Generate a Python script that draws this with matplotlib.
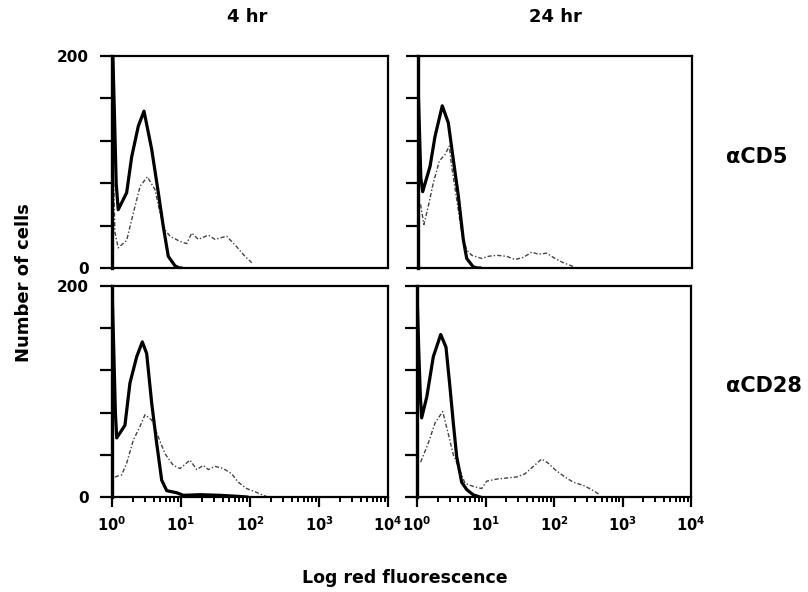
import matplotlib
matplotlib.use('Agg')
import matplotlib.pyplot as plt
from matplotlib.ticker import LogLocator, NullFormatter, FixedLocator

plt.rcParams['font.family'] = ['DejaVu Sans']
plt.rcParams['font.weight'] = 'bold'
plt.rcParams['mathtext.fontset'] = 'dejavusans'

# fluorescence (x) vs number of cells (y)
# 4 hr, aCD5
tl_solid_x = [1.0, 1.08, 1.15, 1.23, 1.63, 1.93, 2.41, 2.91, 3.76, 4.69, 5.54, 6.54, 8.2, 9.5, 10]
tl_solid_y = [230, 150, 80, 55, 71, 105, 134, 148, 112, 71, 39, 11, 2, 0, 0]
tl_dash_x = [1.06, 1.1, 1.23, 1.63, 2.04, 2.55, 3.25, 4.2, 4.96, 5.86, 6.93, 9.7, 12.1, 14.3,
             17.8, 24.9, 31.1, 45.9, 64.2, 84.7, 106]
tl_dash_y = [80, 34, 19, 26, 52, 77, 86, 74, 52, 36, 30, 25, 23, 33, 27, 31, 27, 30, 20, 11, 5]

# 24 hr, aCD5
tr_solid_x = [1.0, 1.05, 1.1, 1.17, 1.5, 1.77, 2.26, 2.77, 3.28, 3.88, 4.58, 5.14, 6.41, 7.5, 8]
tr_solid_y = [175, 130, 85, 72, 96, 124, 153, 137, 102, 68, 27, 9, 1, 0, 0]
tr_dash_x = [1.09, 1.22, 1.41, 1.67, 2.05, 2.48, 2.86, 3.1, 3.67, 4.35, 5.14, 6.08, 8.5, 10.6,
             14.1, 19.7, 26.1, 34.5, 45.7, 57.1, 75.7, 100, 132, 175, 200]
tr_dash_y = [60, 41, 58, 80, 101, 107, 115, 96, 65, 33, 17, 12, 9, 11, 12, 11, 8, 10, 15, 13,
             14, 9, 5, 2, 0]

# 4 hr, aCD28
bl_solid_x = [1.0, 1.06, 1.12, 1.17, 1.54, 1.82, 2.28, 2.75, 3.18, 3.76, 4.44, 5.25, 6.21, 8.7,
              10.8, 18.8, 36.7, 71.6, 90]
bl_solid_y = [200, 140, 80, 56, 68, 108, 133, 147, 136, 89, 51, 16, 6, 4, 1.6, 2.2, 1.6, 0.5, 0]
bl_dash_x = [1.1, 1.38, 1.63, 2.04, 2.55, 3.01, 3.76, 4.69, 5.86, 7.73, 9.7, 13.5, 16.9, 21.0,
             24.9, 31.1, 41.0, 54.3, 67.6, 89.6, 118, 156, 180]
bl_dash_y = [19, 21, 32, 54, 67, 78, 73, 57, 41, 30, 27, 35, 26, 30, 26, 29, 27, 22, 14, 8, 5,
             1.6, 0]

# 24 hr, aCD28
br_solid_x = [1.0, 1.06, 1.12, 1.17, 1.39, 1.73, 2.22, 2.65, 3.03, 3.39, 3.8, 4.49, 5.32, 6.64,
              8.3]
br_solid_y = [195, 140, 95, 75, 95, 133, 154, 142, 104, 70, 38, 14, 7, 2, 0]
br_dash_x = [1.13, 1.46, 1.83, 2.37, 2.86, 3.39, 4.01, 5.02, 6.64, 8.8, 10.4, 14.6, 20.4, 28.5,
             37.7, 49.9, 66.1, 82.5, 103, 137, 191, 268, 355, 470]
br_dash_y = [33, 51, 70, 81, 60, 40, 29, 13, 10, 8, 15, 17, 18, 19, 22, 29, 36, 32, 26, 20, 14,
             11, 7, 2]

col_titles = ['4 hr', '24 hr']
row_labels = ['\u03b1CD5', '\u03b1CD28']
x_ticks = [1, 10, 100, 1000, 10000]
x_labels = ['$\\mathbf{10^{0}}$', '$\\mathbf{10^{1}}$', '$\\mathbf{10^{2}}$',
            '$\\mathbf{10^{3}}$', '$\\mathbf{10^{4}}$']
y_ticks = [0, 40, 80, 120, 160, 200]
y_labels = ['0', '', '', '', '', '200']

fig = plt.figure(figsize=(8.08, 5.92), dpi=100)

rects = {
    'tl': [112 / 808, 1 - 268 / 592, 276 / 808, 212 / 592],
    'tr': [418 / 808, 1 - 268 / 592, 274 / 808, 212 / 592],
    'bl': [112 / 808, 1 - 497 / 592, 276 / 808, 211 / 592],
    'br': [417 / 808, 1 - 497 / 592, 274 / 808, 211 / 592],
}
curves = {
    'tl': (tl_solid_x, tl_solid_y, tl_dash_x, tl_dash_y),
    'tr': (tr_solid_x, tr_solid_y, tr_dash_x, tr_dash_y),
    'bl': (bl_solid_x, bl_solid_y, bl_dash_x, bl_dash_y),
    'br': (br_solid_x, br_solid_y, br_dash_x, br_dash_y),
}

for key in ['tl', 'tr', 'bl', 'br']:
    ax = fig.add_axes(rects[key])
    sx, sy, dx, dy = curves[key]
    ax.plot(dx, dy, color='#444444', lw=1.0, ls=(0, (3, 1.5, 1, 1.5)))
    ax.plot(sx, sy, color='black', lw=2.3, solid_joinstyle='round')
    ax.set_xscale('log')
    ax.set_xlim(1, 10000)
    ax.set_ylim(0, 200)
    for s in ['top', 'right', 'bottom']:
        ax.spines[s].set_linewidth(1.6)
    ax.spines['left'].set_linewidth(2.4)
    ax.set_yticks(y_ticks)
    ax.tick_params(axis='y', direction='out', length=8.5, width=1.6, pad=8, labelsize=11)
    if key in ('tl', 'bl'):
        ax.set_yticklabels(y_labels, fontweight='bold')
    else:
        ax.set_yticklabels([])
    if key in ('bl', 'br'):
        ax.xaxis.set_major_locator(FixedLocator(x_ticks))
        ax.set_xticklabels(x_labels)
        ax.xaxis.set_minor_locator(LogLocator(base=10, subs=range(2, 10), numticks=20))
        ax.xaxis.set_minor_formatter(NullFormatter())
        ax.tick_params(axis='x', which='major', direction='out', length=7.5, width=1.6,
                       pad=6, labelsize=10.5)
        ax.tick_params(axis='x', which='minor', direction='out', length=3.6, width=1.4)
    else:
        ax.set_xticks([])
        ax.xaxis.set_minor_locator(FixedLocator([]))

fig.text(247 / 808, 1 - 17 / 592, col_titles[0], ha='center', va='center',
         fontsize=13, fontweight='bold')
fig.text(555 / 808, 1 - 17 / 592, col_titles[1], ha='center', va='center',
         fontsize=13, fontweight='bold')
fig.text(726 / 808, 1 - 157 / 592, row_labels[0], ha='left', va='center',
         fontsize=15, fontweight='bold')
fig.text(726 / 808, 1 - 386 / 592, row_labels[1], ha='left', va='center',
         fontsize=15, fontweight='bold')
fig.text(24 / 808, 1 - 283 / 592, 'Number of cells', ha='center', va='center',
         rotation=90, fontsize=13, fontweight='bold')
fig.text(405 / 808, 1 - 578 / 592, 'Log red fluorescence', ha='center', va='center',
         fontsize=12.5, fontweight='bold')

fig.savefig('out.png', dpi=100)
